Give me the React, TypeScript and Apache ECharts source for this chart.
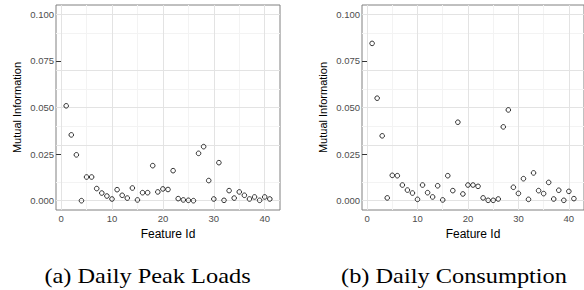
import React, { useEffect, useRef } from "react";
import * as echarts from "echarts";

const featureIds = [
  1, 2, 3, 4, 5, 6, 7, 8, 9, 10, 11, 12, 13, 14, 15, 16, 17, 18, 19, 20, 21,
  22, 23, 24, 25, 26, 27, 28, 29, 30, 31, 32, 33, 34, 35, 36, 37, 38, 39, 40, 41,
];

const peakLoadsMI = [
  0.0509, 0.0353, 0.0246, 0.0, 0.0127, 0.0127, 0.0065, 0.0041, 0.0025, 0.0009,
  0.0059, 0.0029, 0.0014, 0.0068, 0.0004, 0.0043, 0.0043, 0.0188, 0.0047,
  0.0063, 0.006, 0.0161, 0.0011, 0.0004, 0.0002, 0.0, 0.0254, 0.029, 0.0108,
  0.0009, 0.0204, 0.0002, 0.0054, 0.0014, 0.0047, 0.0029, 0.0009, 0.002,
  0.0002, 0.002, 0.0009,
];

const consumptionMI = [
  0.0844, 0.055, 0.0348, 0.0015, 0.0136, 0.0134, 0.0084, 0.0057, 0.0041,
  0.0007, 0.0084, 0.0043, 0.002, 0.008, 0.0004, 0.0134, 0.0054, 0.0421,
  0.0036, 0.0084, 0.0084, 0.0077, 0.0015, 0.0002, 0.0002, 0.0009, 0.0396,
  0.0487, 0.0072, 0.0039, 0.0118, 0.0007, 0.0149, 0.0054, 0.0038, 0.0098,
  0.0009, 0.0056, 0.0002, 0.005, 0.0011,
];

const xMajor = [0, 10, 20, 30, 40];
const xMinor = [5, 15, 25, 35];
const yMajor = [0, 0.025, 0.05, 0.075, 0.1];
const yMinor = [0.0125, 0.0375, 0.0625, 0.0875];

const captions = ["(a) Daily Peak Loads", "(b) Daily Consumption"];
const xTitle = "Feature Id";
const yTitle = "Mutual Information";

export default function App() {
  const ref = useRef<HTMLDivElement>(null);
  useEffect(() => {
    if (!ref.current) return;
    const chart = echarts.init(ref.current, undefined, { renderer: "svg" });
    const font = "Liberation Sans";
    const grids = [
      { left: 56, top: 5, width: 224, height: 205 },
      { left: 362, top: 5, width: 224, height: 205 },
    ];
    const datasets = [peakLoadsMI, consumptionMI];

    const xAxes = grids.map((_, i) => ({
      type: "value",
      gridIndex: i,
      min: -1,
      max: 43,
      splitLine: { show: false },
      axisLine: { show: false },
      axisTick: {
        show: true,
        length: 4,
        customValues: xMajor,
        lineStyle: { color: "#333", width: 1 },
      },
      axisLabel: {
        customValues: xMajor,
        fontSize: 9.5,
        color: "#4d4d4d",
        fontFamily: font,
        margin: 3,
      },
      name: xTitle,
      nameLocation: "middle",
      nameGap: 15,
      nameTextStyle: {
        fontSize: 12,
        color: "#000",
        fontFamily: font,
        verticalAlign: "top",
      },
    }));

    const yAxes = grids.map((_, i) => ({
      type: "value",
      gridIndex: i,
      min: -0.005,
      max: 0.105,
      splitLine: { show: false },
      axisLine: { show: false },
      axisTick: {
        show: true,
        length: 5,
        customValues: yMajor,
        lineStyle: { color: "#333", width: 1 },
      },
      axisLabel: {
        customValues: yMajor,
        fontSize: 9.5,
        color: "#4d4d4d",
        fontFamily: font,
        margin: 2,
        formatter: (v: number) => v.toFixed(3),
      },
      name: yTitle,
      nameLocation: "middle",
      nameRotate: 90,
      nameGap: 34,
      nameTextStyle: { fontSize: 11, color: "#000", fontFamily: font },
    }));

    const gridLineSeries = grids.map((_, i) => ({
      type: "scatter",
      xAxisIndex: i,
      yAxisIndex: i,
      data: [],
      silent: true,
      z: 1,
      markLine: {
        silent: true,
        symbol: "none",
        label: { show: false },
        animation: false,
        data: [
          ...xMinor.map((v) => ({ xAxis: v, lineStyle: { color: "#f3f3f3", width: 1, type: "solid" } })),
          ...yMinor.map((v) => ({ yAxis: v, lineStyle: { color: "#f3f3f3", width: 1, type: "solid" } })),
          ...xMajor.map((v) => ({ xAxis: v, lineStyle: { color: "#e3e3e3", width: 1, type: "solid" } })),
          ...yMajor.map((v) => ({ yAxis: v, lineStyle: { color: "#e3e3e3", width: 1, type: "solid" } })),
        ],
      },
    }));

    const pointSeries = datasets.map((d, i) => ({
      type: "scatter",
      xAxisIndex: i,
      yAxisIndex: i,
      z: 5,
      symbol: "circle",
      symbolSize: 4.6,
      itemStyle: { color: "rgba(255,255,255,0)", borderColor: "#000", borderWidth: 1 },
      data: featureIds.map((x, k) => [x, d[k]]),
    }));

    const captionStyle = {
      fontFamily: "Liberation Serif",
      fontSize: 21,
      fill: "#000",
      align: "center",
      verticalAlign: "middle",
    };

    chart.setOption({
      animation: false,
      backgroundColor: "#fff",
      grid: grids.map((g) => ({
        ...g,
        show: true,
        backgroundColor: "#fff",
        borderColor: "#808080",
        borderWidth: 1,
      })),
      xAxis: xAxes,
      yAxis: yAxes,
      series: [...gridLineSeries, ...pointSeries],
      graphic: [
        {
          type: "text",
          x: 147.5,
          y: 276,
          scaleX: 1.16,
          style: { ...captionStyle, text: captions[0] },
        },
        {
          type: "text",
          x: 454,
          y: 276,
          scaleX: 1.16,
          style: { ...captionStyle, text: captions[1] },
        },
      ],
    });
    return () => chart.dispose();
  }, []);
  return (
    <div
      ref={ref}
      style={{ position: "absolute", left: 0, top: 0, width: 584, height: 290 }}
    />
  );
}
